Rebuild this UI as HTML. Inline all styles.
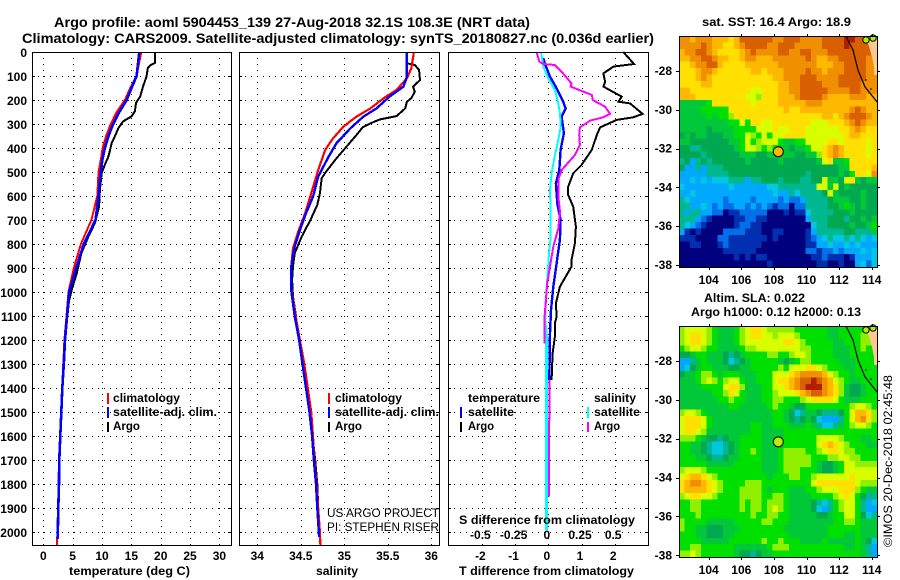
<!DOCTYPE html>
<html lang="en">
<head>
<meta charset="utf-8">
<title>Argo profile 5904453_139</title>
<style>
html,body{margin:0;padding:0;background:#fff;}
svg{display:block;}
text{font-family:"Liberation Sans",sans-serif;font-size:12px;font-weight:bold;fill:#000;}
.r{font-weight:normal;}
.frame{fill:none;stroke:#000;stroke-width:1;shape-rendering:crispEdges;}
</style>
</head>
<body>
<svg id="chart" xmlns="http://www.w3.org/2000/svg" width="900" height="580" viewBox="0 0 900 580">
  <rect width="900" height="580" fill="#fff"/>
  <text x="54" y="27" textLength="476" lengthAdjust="spacingAndGlyphs" style="font-size:13.5px">Argo profile: aoml 5904453_139 27-Aug-2018 32.1S 108.3E (NRT data)</text>
  <text x="22" y="43" textLength="632" lengthAdjust="spacingAndGlyphs" style="font-size:13.5px">Climatology: CARS2009. Satellite-adjusted climatology: synTS_20180827.nc (0.036d earlier)</text>

  <g id="p1"></g>
  <g id="p2"></g>
  <g id="p3"></g>
  <g id="m1"></g>
  <g id="m2"></g>

  <g>
    <rect x="107" y="393" width="2" height="11" fill="#ff0000"/>
    <text x="113" y="402" textLength="67" lengthAdjust="spacingAndGlyphs">climatology</text>
    <rect x="107" y="407" width="2" height="11" fill="#0000ff"/>
    <text x="113" y="416" textLength="104" lengthAdjust="spacingAndGlyphs">satellite-adj. clim.</text>
    <rect x="107" y="422" width="2" height="10" fill="#000"/>
    <text x="113" y="430" textLength="27" lengthAdjust="spacingAndGlyphs">Argo</text>
  </g>
  <g>
    <rect x="328" y="393" width="2" height="11" fill="#ff0000"/>
    <text x="335" y="402" textLength="67" lengthAdjust="spacingAndGlyphs">climatology</text>
    <rect x="328" y="407" width="2" height="11" fill="#0000ff"/>
    <text x="335" y="416" textLength="104" lengthAdjust="spacingAndGlyphs">satellite-adj. clim.</text>
    <rect x="328" y="422" width="2" height="10" fill="#000"/>
    <text x="335" y="430" textLength="27" lengthAdjust="spacingAndGlyphs">Argo</text>
  </g>
  <text class="r" x="327" y="517" textLength="112" lengthAdjust="spacingAndGlyphs">US ARGO PROJECT</text>
  <text class="r" x="327" y="531" textLength="112" lengthAdjust="spacingAndGlyphs">PI: STEPHEN RISER</text>

  <g>
    <text x="468" y="402" textLength="72" lengthAdjust="spacingAndGlyphs">temperature</text>
    <rect x="460" y="407" width="2" height="11" fill="#0000ff"/>
    <text x="468" y="416" textLength="46" lengthAdjust="spacingAndGlyphs">satellite</text>
    <rect x="460" y="422" width="2" height="10" fill="#000"/>
    <text x="468" y="430" textLength="26" lengthAdjust="spacingAndGlyphs">Argo</text>
    <text x="594" y="402" textLength="42" lengthAdjust="spacingAndGlyphs">salinity</text>
    <rect x="587" y="407" width="2" height="11" fill="#00ffff"/>
    <text x="594" y="416" textLength="46" lengthAdjust="spacingAndGlyphs">satellite</text>
    <rect x="587" y="422" width="2" height="10" fill="#ff00ff"/>
    <text x="594" y="430" textLength="26" lengthAdjust="spacingAndGlyphs">Argo</text>
  </g>
  <text x="459" y="524" textLength="176" lengthAdjust="spacingAndGlyphs">S difference from climatology</text>
  <text x="69" y="575" textLength="121" lengthAdjust="spacingAndGlyphs">temperature (deg C)</text>
  <text x="316" y="575" textLength="42" lengthAdjust="spacingAndGlyphs">salinity</text>
  <text x="459" y="575" textLength="175" lengthAdjust="spacingAndGlyphs">T difference from climatology</text>
  <text x="702" y="26" textLength="149" lengthAdjust="spacingAndGlyphs">sat. SST: 16.4 Argo: 18.9</text>
  <text x="704" y="302" textLength="101" lengthAdjust="spacingAndGlyphs">Altim. SLA: 0.022</text>
  <text x="691" y="316" textLength="170" lengthAdjust="spacingAndGlyphs">Argo h1000: 0.12 h2000: 0.13</text>
  <text class="r" transform="translate(892,547) rotate(-90)" textLength="172" lengthAdjust="spacingAndGlyphs">©IMOS 20-Dec-2018 02:45:48</text>
</svg>
<script>
// ---------- profile data (depth in dbar, temperature in deg C, salinity in PSU) ----------
const depthTicks = [100,200,300,400,500,600,700,800,900,1000,1100,1200,1300,1400,1500,1600,1700,1800,1900,2000];
const depthLabels = [0,100,200,300,400,500,600,700,800,900,1000,1100,1200,1300,1400,1500,1600,1700,1800,1900,2000];
const tempTicks = [0,5,10,15,20,25,30];
const salTicks = [34,34.5,35,35.5,36];
const tDiffTicks = [-2,-1,0,1,2];
const sDiffTicks = [-0.5,-0.25,0,0.25,0.5];
const lonTicks = [104,106,108,110,112,114];
const latTicks = [-28,-30,-32,-34,-36,-38];

const argoTempDepth = [0,46,56,67,101,143,185,212,247,268,289,317,351,379,435,469,504,574,643,712,768,837,921,990,1035,1100,1200,1300,1400,1500,1600,1700,1800,1900];
const argoTemp = [19.03,19.0,18.2,17.8,17.6,17.0,16.5,15.8,15.6,15.05,13.6,12.8,12.2,11.65,11.1,10.5,9.95,9.65,9.5,8.8,7.7,6.5,5.7,4.85,4.4,4.1,3.75,3.55,3.25,3.07,2.9,2.73,2.67,2.56];
const climTempDepth = [0,100,150,200,250,300,350,400,450,500,600,700,800,900,1000,1100,1200,1300,1400,1500,1600,1700,1800,1900,2000,2055];
const climTemp = [16.7,15.9,14.8,13.9,12.5,11.5,10.7,10.1,9.8,9.4,9.2,8.2,6.4,5.2,4.3,3.95,3.6,3.4,3.2,3.05,2.85,2.65,2.6,2.5,2.4,2.33];
const satTempDepth = [0,100,150,200,250,300,350,400,450,500,600,700,800,900,1000,1100,1200,1300,1400,1500,1600,1700,1800,1900,2030];
const satTemp = [16.35,15.9,15.05,14.2,12.95,11.9,11.1,10.5,10.05,9.8,9.4,8.9,6.9,5.6,4.4,4.05,3.7,3.5,3.24,3.07,2.9,2.73,2.67,2.56,2.45];

const argoSalDepth = [0,47,54,75,117,144,165,193,207,235,267,281,297,314,346,401,443,499,526,589,637,700,769,839,894,950,1019,1089,1200,1300,1400,1500,1600,1700,1800,1900];
const argoSal = [35.72,35.72,35.81,35.86,35.87,35.79,35.81,35.77,35.72,35.70,35.60,35.41,35.30,35.21,35.14,35.01,34.91,34.79,34.74,34.72,34.69,34.61,34.51,34.43,34.41,34.40,34.41,34.44,34.48,34.53,34.57,34.61,34.635,34.665,34.69,34.70];
const climSalDepth = [0,68,110,158,193,235,269,311,360,408,492,589,672,749,818,894,978,1100,1200,1300,1400,1500,1600,1700,1800,1900,2000,2055];
const climSal = [35.80,35.77,35.72,35.60,35.45,35.30,35.14,34.99,34.87,34.78,34.70,34.62,34.55,34.47,34.41,34.39,34.39,34.44,34.49,34.54,34.58,34.62,34.64,34.655,34.68,34.70,34.72,34.725];
const satSalDepth = [0,47,103,144,186,235,269,318,380,436,519,603,672,742,811,894,992,1100,1200,1300,1400,1500,1600,1700,1800,1900,2020];
const satSal = [35.72,35.72,35.72,35.68,35.52,35.37,35.22,35.07,34.91,34.82,34.70,34.64,34.56,34.49,34.43,34.39,34.39,34.43,34.48,34.52,34.56,34.60,34.63,34.65,34.675,34.69,34.71];

const tDiffArgoDepth = [0,50,61,89,124,144,186,207,214,258,272,283,314,346,408,471,506,561,596,644,728,797,867,894,978,1047,1103,1130,1186,1256,1367];
const tDiffArgo = [2.26,2.58,1.96,1.66,1.71,1.66,2.21,2.11,2.46,2.84,2.56,2.06,1.56,1.46,1.31,1.0,0.75,0.6,0.6,0.75,0.83,0.8,0.7,0.7,0.35,0.23,0.25,0.2,0.2,0.13,0.1];
const tDiffSatDepth = [26,50,103,151,207,235,269,339,408,492,547,631,700,783,881,978,1075,1172,1367];
const tDiffSat = [-0.15,-0.1,0.05,0.25,0.45,0.52,0.40,0.47,0.37,0.33,0.23,0.27,0.37,0.35,0.25,0.15,0.08,0.05,0.03];
const sDiffArgoDepth = [0,40,50,54,82,131,144,179,200,228,258,272,286,314,346,388,429,492,533,603,665,735,811,908,964,1033,1103,1214];
const sDiffArgo = [-0.088,-0.068,-0.038,0.05,0.1,0.175,0.168,0.328,0.335,0.428,0.465,0.415,0.315,0.238,0.233,0.238,0.2,0.1,0.075,0.075,0.088,0.075,0.038,0.008,-0.008,-0.018,-0.028,-0.03];
const sDiffArgoDeepDepth = [1367,1853];
const sDiffArgoDeep = [0.008,0.005];
const sDiffSatDepth = [0,61,110,158,214,256,311,367,429,506,575,672,769,839,950,1033,1117,1172];
const sDiffSat = [-0.055,-0.038,0,0.05,0.075,0.088,0.093,0.075,0.05,0.025,0.013,0.018,0.018,0.005,-0.008,-0.018,-0.023,-0.013];
const sDiffSatDeepDepth = [1172,1992];
const sDiffSatDeep = [-0.013,-0.013];

// ---------- map data: colour-class index (0 coldest/lowest .. 15 warmest/highest) per 1/3-degree cell, north to south ----------
const mapClassColors = ["#00007f","#0030b0","#0070e8","#00a8ff","#00c8e0","#00b890","#00a850","#00c838","#00e000","#90f000","#d8ff00","#ffe000","#ffb800","#f09000","#d86000","#b02000"];
const sstGrid = [
[13,13,12,13,13,13,12,12,12,11,12,14,14,14,14,14,14,13,13,14,14,14,13,13,13,13,14,14,14,14,15,15,14,14,14,14],
[13,13,13,13,14,13,12,12,11,11,12,13,14,14,14,14,13,13,14,14,14,13,13,13,13,13,14,14,14,14,15,14,14,14,14,14],
[12,13,13,14,14,13,12,11,11,11,11,12,13,14,13,13,13,13,14,14,13,13,14,14,13,13,13,14,14,14,14,14,14,14,14,14],
[12,12,13,13,14,14,13,12,12,11,11,12,13,13,12,12,12,13,13,13,13,13,13,14,13,12,12,13,13,14,14,14,14,14,13,13],
[11,11,12,13,13,14,14,12,11,11,11,11,12,12,12,12,12,12,13,13,13,13,13,13,13,12,12,12,13,13,14,14,14,14,13,13],
[11,11,11,12,13,13,12,11,11,11,11,11,11,12,12,11,12,12,12,13,13,13,13,14,13,13,12,13,13,13,14,14,14,14,13,13],
[11,11,11,12,13,12,11,11,11,11,11,11,11,11,11,11,11,12,12,13,13,13,14,14,14,13,13,13,13,14,14,14,14,14,13,13],
[11,11,11,11,12,12,11,11,11,11,11,11,11,11,11,11,11,11,12,12,13,13,14,14,14,14,13,13,13,14,14,14,14,13,13,13],
[12,12,11,11,11,11,11,11,11,11,11,11,11,10,10,11,11,11,12,12,13,13,14,14,14,14,14,13,13,13,13,14,14,13,13,13],
[12,12,12,11,11,11,11,11,11,11,11,11,10,10,9,11,11,11,12,12,12,13,14,14,14,14,13,12,12,12,12,13,13,13,12,12],
[7,7,7,7,7,8,11,11,11,11,11,11,11,10,11,11,11,11,12,12,12,12,12,13,13,13,12,12,12,12,12,12,12,12,12,12],
[7,7,7,7,8,8,8,8,8,11,11,11,11,11,11,11,11,11,11,12,11,11,12,12,12,12,12,12,12,12,12,13,14,13,12,12],
[7,7,7,7,7,8,7,8,8,9,11,11,11,11,11,11,11,11,11,11,11,11,11,11,11,11,12,12,11,12,13,14,14,14,13,12],
[7,7,7,7,7,7,7,7,7,8,8,10,8,11,11,10,10,11,11,11,11,11,11,11,10,10,10,11,11,11,12,13,14,13,12,12],
[7,7,7,7,7,6,7,7,7,7,8,8,8,8,10,10,10,11,10,10,11,11,11,10,10,10,10,10,10,11,11,12,13,12,11,11],
[6,7,6,7,7,6,6,6,7,7,8,8,10,9,8,10,8,10,10,11,11,11,11,10,10,10,10,10,10,10,11,12,12,11,11,11],
[7,7,6,6,6,6,6,6,6,7,7,8,10,8,9,10,10,10,8,7,7,8,8,10,10,10,10,11,11,10,11,11,11,11,10,11],
[6,6,5,5,6,6,6,6,6,6,7,8,10,10,9,8,9,8,7,7,6,7,7,8,10,10,11,12,13,12,11,11,11,11,10,11],
[6,6,6,6,5,6,6,6,6,6,6,7,7,7,6,6,7,7,7,7,7,6,6,7,7,9,11,12,13,12,11,11,11,11,10,11],
[5,6,3,5,6,5,6,6,6,6,6,6,7,6,6,6,6,6,7,6,6,6,6,6,6,7,10,11,7,7,8,11,11,11,11,11],
[6,3,3,5,3,5,5,5,6,6,6,6,6,6,6,6,6,6,6,6,6,6,6,6,6,6,6,6,6,7,7,11,11,11,11,12],
[3,3,3,3,3,5,5,5,5,6,6,6,6,6,6,6,6,6,6,6,6,6,6,5,6,6,6,6,6,7,6,8,11,11,10,13],
[3,3,4,3,4,3,4,4,4,5,5,5,3,5,5,6,6,6,5,6,6,6,5,5,6,6,10,7,7,6,10,11,7,6,7,7],
[4,3,3,3,3,3,3,3,3,4,3,3,3,3,3,3,4,4,5,5,5,5,5,5,5,10,10,7,10,6,7,6,6,6,6,6],
[3,3,4,3,3,3,3,3,3,3,3,3,3,3,3,3,3,4,3,3,5,4,5,5,5,5,6,10,7,6,6,6,6,7,6,6],
[5,4,3,3,3,3,3,3,2,3,3,3,3,2,3,3,3,3,2,3,2,2,3,5,5,5,5,6,7,7,7,6,6,7,6,6],
[5,5,3,3,4,3,2,3,2,2,3,3,2,3,2,3,2,1,2,2,0,2,2,5,5,5,5,6,6,7,8,7,6,7,6,6],
[5,3,5,5,3,3,2,2,0,1,1,2,2,2,2,2,0,0,0,1,0,1,1,4,5,5,5,5,6,6,6,7,6,6,6,6],
[5,5,5,3,2,1,0,0,0,0,1,1,2,2,1,1,0,0,0,0,0,0,0,3,5,5,5,6,6,6,5,6,6,7,6,7],
[5,4,3,2,1,0,0,0,0,0,1,2,2,1,1,0,0,0,0,0,0,0,0,0,4,5,5,6,6,6,6,7,6,6,7,8],
[3,1,0,1,0,0,0,0,2,2,2,2,1,1,1,0,0,1,1,0,0,0,0,1,3,5,5,5,5,5,6,6,5,5,5,7],
[1,1,1,0,0,0,0,2,2,1,1,1,1,1,1,1,0,1,0,0,0,0,0,1,2,3,4,5,4,4,5,4,5,4,3,4],
[0,0,1,1,0,0,0,1,2,1,1,1,1,1,1,0,0,0,0,0,0,0,0,1,1,3,3,4,3,3,4,3,4,3,3,3],
[0,0,0,0,0,0,0,0,1,1,1,1,1,1,0,0,0,0,0,0,0,0,0,2,2,1,2,2,3,2,3,3,3,4,3,4],
[0,0,0,0,0,0,0,0,0,0,1,0,1,0,1,1,0,0,0,0,0,0,0,0,1,1,2,1,1,1,0,1,3,3,3,4],
[0,0,0,0,0,0,0,0,0,0,0,0,0,0,0,0,1,0,0,0,0,0,0,0,0,1,1,0,0,1,0,0,3,4,2,4]
];
const slaGrid = [
[9,10,10,10,10,9,8,7,7,7,8,9,10,11,11,10,9,9,9,9,9,8,8,8,8,8,8,7,7,8,8,8,8,8,8,8],
[9,10,11,11,10,9,8,7,7,7,8,9,10,11,11,10,10,9,10,10,10,9,8,8,8,8,8,7,7,8,8,8,8,9,9,8],
[9,10,11,11,10,9,8,7,7,7,8,9,10,10,10,10,10,10,10,11,11,10,9,8,8,8,8,8,7,7,8,8,8,9,9,8],
[8,9,10,10,9,8,8,7,7,7,7,8,9,9,10,10,10,10,10,10,10,10,9,9,8,8,8,8,7,7,7,8,8,9,8,8],
[6,6,7,8,8,7,7,7,6,5,6,7,8,8,8,8,9,9,8,8,9,10,10,9,8,8,8,8,7,7,7,8,8,8,8,8],
[3,3,5,7,8,7,7,7,6,4,5,6,7,8,8,8,8,8,7,6,7,8,9,9,8,8,8,8,8,7,7,7,8,8,8,8],
[3,4,6,7,8,8,7,7,7,6,6,7,7,8,8,8,8,8,9,8,10,10,10,11,11,10,9,8,8,8,7,7,8,8,8,8],
[6,7,7,8,9,9,8,7,8,8,8,7,7,7,8,8,8,10,10,10,11,12,13,13,13,13,12,10,9,8,8,7,8,8,8,8],
[7,7,7,8,9,10,9,8,9,10,10,8,7,7,8,8,8,10,11,11,12,13,14,14,15,14,13,12,10,9,8,7,7,8,8,8],
[7,7,7,7,8,8,8,8,10,11,11,9,7,7,7,8,8,10,10,11,12,13,14,15,15,15,13,12,11,9,7,6,6,7,8,8],
[7,7,7,7,7,7,8,8,9,11,10,8,7,7,7,8,8,9,10,10,10,11,12,13,14,14,13,12,11,9,7,6,6,7,8,8],
[7,7,7,7,7,7,7,8,8,9,8,8,7,7,7,8,8,9,9,8,8,8,9,10,11,11,11,11,10,8,7,7,7,8,8,8],
[7,7,7,7,7,7,7,7,7,8,8,7,7,7,7,7,8,9,8,8,7,6,6,8,8,8,8,8,8,8,8,9,10,10,9,8],
[9,10,10,9,8,7,7,7,7,7,7,7,7,7,7,7,7,8,8,7,6,4,5,7,7,6,5,5,5,6,8,10,12,12,11,9],
[10,11,11,11,10,8,7,7,7,7,7,7,7,7,7,7,7,8,8,7,6,5,6,7,6,4,3,3,3,5,8,10,12,13,11,9],
[10,11,11,11,10,8,7,7,7,7,7,7,7,8,8,7,7,8,8,8,7,7,7,8,7,5,4,4,5,7,8,9,10,10,9,8],
[10,11,11,10,9,7,7,7,7,7,7,7,7,8,8,7,7,7,7,8,8,8,8,8,8,8,8,8,8,8,8,8,8,8,8,8],
[9,9,9,8,7,6,6,5,6,7,7,8,8,8,8,7,7,7,7,8,8,8,8,8,8,10,10,10,10,9,8,8,8,7,7,8],
[8,8,7,7,6,5,4,4,5,6,7,8,8,8,8,7,7,7,7,8,8,8,8,8,8,10,11,12,11,10,9,8,8,8,7,7],
[8,8,7,7,6,5,4,4,5,6,7,8,8,9,8,7,7,7,8,9,9,9,9,8,8,9,10,11,11,10,9,9,8,8,8,8],
[8,8,8,7,7,6,5,5,6,7,7,8,8,8,8,7,7,7,8,9,9,9,9,9,8,8,8,9,9,10,10,9,9,8,8,8],
[8,8,8,8,8,7,7,7,7,7,8,8,8,8,8,7,7,7,8,9,9,9,9,9,8,7,6,6,7,8,10,10,9,9,9,9],
[9,10,10,10,9,8,8,8,8,8,8,8,8,8,8,7,7,7,8,9,9,9,8,8,8,7,6,6,7,8,10,10,10,10,10,10],
[10,11,12,12,11,10,9,8,8,8,8,8,8,8,8,8,7,8,8,8,9,9,8,8,9,10,10,10,10,10,10,11,10,10,10,10],
[11,12,13,13,12,11,10,9,8,8,8,8,9,9,9,8,8,8,8,8,8,8,8,8,10,11,11,11,11,11,11,11,10,9,9,9],
[11,12,12,12,12,11,10,9,8,8,8,9,9,9,9,8,7,8,8,8,7,7,7,8,8,9,10,10,10,11,11,11,9,8,7,7],
[9,10,11,11,10,10,9,8,8,8,8,9,9,9,9,8,8,9,9,8,7,7,7,7,8,8,8,8,9,10,11,10,8,6,5,5],
[8,8,9,9,8,8,8,8,8,8,8,9,8,9,9,8,9,9,9,8,7,7,7,7,6,5,4,5,8,9,10,10,8,5,3,4],
[8,8,9,9,8,8,8,8,8,8,8,9,8,9,9,8,9,10,9,8,7,7,7,7,6,4,3,5,8,9,10,10,8,5,3,3],
[8,8,8,9,8,8,8,8,8,8,8,8,8,9,8,8,9,9,8,8,7,7,7,7,7,6,6,7,8,8,10,10,8,6,4,5],
[9,8,8,8,8,7,7,7,7,7,8,8,8,8,8,9,9,8,8,8,7,7,7,7,7,7,7,7,8,8,9,9,8,7,7,7],
[9,8,8,7,7,6,6,6,7,7,7,8,8,8,8,8,8,8,8,7,7,7,7,7,7,7,7,8,8,8,8,8,8,7,7,7],
[8,8,8,7,7,6,6,6,7,7,8,8,8,8,8,8,8,8,8,8,7,7,7,7,7,7,7,8,8,8,7,7,8,7,7,7],
[8,8,8,8,7,7,7,7,7,8,8,8,8,8,8,9,8,8,9,8,8,8,7,7,7,7,8,7,7,7,7,7,8,7,6,4],
[8,8,9,9,8,8,8,8,8,8,7,7,7,7,7,7,8,9,9,9,8,8,8,8,8,8,8,8,8,8,7,7,8,7,5,3],
[9,9,10,9,8,8,8,8,8,8,7,6,6,5,6,7,7,8,8,8,8,8,8,8,8,8,8,8,8,8,8,8,8,7,5,3]
];
const coastLon = [112.42,112.85,113.16,113.59,114.33];
const coastLat = [-26.2,-26.92,-27.95,-28.82,-29.6];
const landLon = [113.65,113.77,114.02,114.14,114.14,114.33,114.33];
const landLat = [-26.2,-26.56,-27.28,-27.8,-28.2,-28.2,-26.2];
const islandLon = [113.65,114.08];
const islandLat = [-26.4,-26.3];
const isletLon = [113.65,113.95];
const isletLat = [-28.46,-28.93];
const argoLon = 108.27;
const argoLat = -32.16;

// ---------- axes ----------
const NS = 'http://www.w3.org/2000/svg';
const PY0 = 52, PY1 = 545;
const yDepth = d => PY0 + d * 0.24;
const xTemp = t => 43.3 + t * 5.87;
const xSal = s => 257.3 + (s - 34) * 87;
const xTD = t => 548.3 + t * 33.2;
const xSD = s => 548.3 + s * 132.8;
const mapX = lon => 708.7 + (lon - 104) * 16.3;
const map1Y = lat => 71 + (-28 - lat) * 19.4;
const map2Y = lat => 361 + (-28 - lat) * 19.43;

function make(tag, parent, attrs) {
  const el = document.createElementNS(NS, tag);
  for (const k in attrs) el.setAttribute(k, attrs[k]);
  parent.appendChild(el);
  return el;
}
function seriesPath(depths, values, xf) {
  let d = '';
  for (let i = 0; i < depths.length; i++) {
    d += (i ? 'L' : 'M') + xf(values[i]).toFixed(1) + ' ' + yDepth(depths[i]).toFixed(1);
  }
  return d;
}
function drawSeries(parent, name, depths, values, xf, color, width) {
  const p = make('path', parent, {d: seriesPath(depths, values, xf), fill: 'none', stroke: color, 'stroke-width': width, 'shape-rendering': 'crispEdges'});
  
  
}
function drawPanel(parent, x0, x1, vTicks, xf, showDepthLabels) {
  depthTicks.forEach(d => {
    const y = Math.round(yDepth(d)) + 0.5;
    const g = make('line', parent, {x1: x0, x2: x1, y1: y, y2: y, stroke: '#000', 'stroke-dasharray': '1 5', 'shape-rendering': 'crispEdges'});
    
    
    make('line', parent, {x1: x0, x2: x0 + 3, y1: y, y2: y, stroke: '#000', 'shape-rendering': 'crispEdges'});
    make('line', parent, {x1: x1 - 3, x2: x1, y1: y, y2: y, stroke: '#000', 'shape-rendering': 'crispEdges'});
  });
  vTicks.forEach(v => {
    const x = Math.round(xf(v)) + 0.5;
    const g = make('line', parent, {x1: x, x2: x, y1: PY0, y2: PY1, stroke: '#000', 'stroke-dasharray': '1 5', 'shape-rendering': 'crispEdges'});
    
    
  });
  if (showDepthLabels) {
    depthLabels.forEach(d => {
      const t = make('text', parent, {x: 27, y: yDepth(d) + 5, 'text-anchor': 'end'});
      t.textContent = d;
      
      
    });
  }
}
function drawFrame(parent, x0, y0, x1, y1) {
  const f = make('rect', parent, {x: x0 + 0.5, y: y0 + 0.5, width: x1 - x0, height: y1 - y0, class: 'frame'});
  
  
}
function xLabels(parent, values, xf, y, dx) {
  values.forEach(v => {
    const t = make('text', parent, {x: xf(v) + (dx || 0), y: y, 'text-anchor': 'middle'});
    t.textContent = v;
    
    
  });
}

// ---------- temperature panel ----------
const p1 = document.getElementById('p1');
drawPanel(p1, 32, 231, tempTicks, xTemp, true);
drawSeries(p1, 'argo-temperature-line', argoTempDepth, argoTemp, xTemp, '#000', 2);
drawSeries(p1, 'climatology-temperature-line', climTempDepth, climTemp, xTemp, '#ff0000', 2);
drawSeries(p1, 'satellite-temperature-line', satTempDepth, satTemp, xTemp, '#0000ff', 2.6);
drawFrame(p1, 32, PY0, 231, PY1);
xLabels(p1, tempTicks, xTemp, 560);

// ---------- salinity panel ----------
const p2 = document.getElementById('p2');
drawPanel(p2, 239, 439, salTicks, xSal, false);
drawSeries(p2, 'argo-salinity-line', argoSalDepth, argoSal, xSal, '#000', 2);
drawSeries(p2, 'climatology-salinity-line', climSalDepth, climSal, xSal, '#ff0000', 2.2);
drawSeries(p2, 'satellite-salinity-line', satSalDepth, satSal, xSal, '#0000ff', 2.4);
drawFrame(p2, 239, PY0, 439, PY1);
xLabels(p2, salTicks, xSal, 560);

// ---------- difference panel ----------
const p3 = document.getElementById('p3');
drawPanel(p3, 448, 648, tDiffTicks, xTD, false);
drawSeries(p3, 'argo-t-difference-line', tDiffArgoDepth, tDiffArgo, xTD, '#000', 2);
drawSeries(p3, 'satellite-t-difference-line', tDiffSatDepth, tDiffSat, xTD, '#0000ff', 2.4);
drawSeries(p3, 'satellite-s-difference-line', sDiffSatDepth, sDiffSat, xSD, '#00ffff', 2);
drawSeries(p3, 'satellite-s-difference-deep-line', sDiffSatDeepDepth, sDiffSatDeep, xSD, '#00ffff', 3.2);
drawSeries(p3, 'argo-s-difference-line', sDiffArgoDepth, sDiffArgo, xSD, '#ff00ff', 2);
drawSeries(p3, 'argo-s-difference-deep-line', sDiffArgoDeepDepth, sDiffArgoDeep, xSD, '#ff00ff', 2);
drawFrame(p3, 448, PY0, 648, PY1);
xLabels(p3, tDiffTicks, xTD, 560, -1.5);
xLabels(p3, sDiffTicks, xSD, 539, -1.5);

// ---------- maps ----------
function drawMap(parent, grid, yf, x0, y0, x1, y1, dotColor, labelBaseline) {
  const cols = grid[0].length, rows = grid.length;
  const cw = (x1 - x0) / cols, ch = (y1 - y0) / rows;
  grid.forEach((row, r) => {
    row.forEach((v, c) => {
      const cell = make('rect', parent, {x: (x0 + c * cw).toFixed(2), y: (y0 + r * ch).toFixed(2), width: (cw + 0.4).toFixed(2), height: (ch + 0.4).toFixed(2), fill: mapClassColors[v], 'shape-rendering': 'crispEdges'});
      
      
    });
  });
  const land = make('polygon', parent, {points: landLon.map((lo, i) => mapX(lo).toFixed(1) + ',' + yf(landLat[i]).toFixed(1)).join(' '), fill: '#ffc890'});
  
  
  islandLon.forEach((lo, i) => {
    const isl = make('circle', parent, {cx: mapX(lo), cy: yf(islandLat[i]), r: 3.2, fill: '#a8f000', stroke: '#000', 'stroke-width': 1});
    
    
  });
  isletLon.forEach((lo, i) => {
    const isl = make('circle', parent, {cx: mapX(lo), cy: yf(isletLat[i]), r: 0.8, fill: '#000'});
    
    
  });
  const coast = make('polyline', parent, {points: coastLon.map((lo, i) => mapX(lo).toFixed(1) + ',' + yf(coastLat[i]).toFixed(1)).join(' '), fill: 'none', stroke: '#000', 'stroke-width': 1.2});
  
  
  const dot = make('circle', parent, {cx: mapX(argoLon), cy: yf(argoLat), r: 5, fill: dotColor, stroke: '#000', 'stroke-width': 1});
  
  
  drawFrame(parent, x0, y0, x1, y1);
  lonTicks.forEach(lo => {
    const x = Math.round(mapX(lo)) + 0.5;
    make('line', parent, {x1: x, x2: x, y1: y0 - 2, y2: y0, stroke: '#000', 'shape-rendering': 'crispEdges'});
    make('line', parent, {x1: x, x2: x, y1: y1, y2: y1 + 3, stroke: '#000', 'shape-rendering': 'crispEdges'});
  });
  latTicks.forEach(la => {
    const y = Math.round(yf(la)) + 0.5;
    make('line', parent, {x1: x0 - 3, x2: x0, y1: y, y2: y, stroke: '#000', 'shape-rendering': 'crispEdges'});
    make('line', parent, {x1: x1, x2: x1 + 3, y1: y, y2: y, stroke: '#000', 'shape-rendering': 'crispEdges'});
    const t = make('text', parent, {x: x0 - 7, y: yf(la) + 4, 'text-anchor': 'end'});
    t.textContent = la;
    
    
  });
  lonTicks.forEach(lo => {
    const t = make('text', parent, {x: mapX(lo), y: labelBaseline, 'text-anchor': 'middle'});
    t.textContent = lo;
    
    
  });
}
drawMap(document.getElementById('m1'), sstGrid, map1Y, 679, 36, 877, 267, '#ffb800', 284);
drawMap(document.getElementById('m2'), slaGrid, map2Y, 679, 326, 877, 557, '#b4f000', 574);
</script>
</body>
</html>
